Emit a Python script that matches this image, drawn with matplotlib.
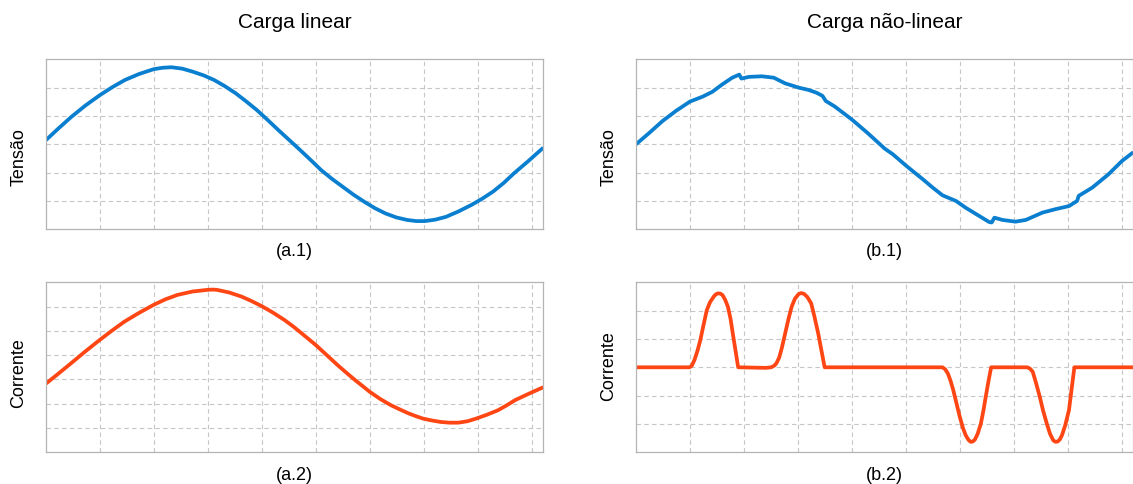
import numpy as np
import matplotlib
matplotlib.use("Agg")
import matplotlib.pyplot as plt

# valores (unidades = divisões da grade)
# (a.1) tensão, carga linear
va_t = [0.0, 0.23, 0.47, 0.73, 1.0, 1.23, 1.46, 1.72, 1.99, 2.15, 2.32, 2.52,
        2.72, 2.92, 3.11, 3.31, 3.51, 3.70, 3.90, 4.10, 4.30, 4.50, 4.70, 4.90,
        5.09, 5.29, 5.49, 5.69, 5.89, 6.08, 6.28, 6.48, 6.68, 6.85, 7.01, 7.20,
        7.40, 7.63, 7.87, 8.07, 8.27, 8.47, 8.66, 8.93, 9.2]
va_v = [3.15, 3.56, 3.97, 4.37, 4.74, 5.02, 5.27, 5.48, 5.65, 5.70, 5.72, 5.67,
        5.56, 5.43, 5.27, 5.05, 4.80, 4.52, 4.21, 3.86, 3.50, 3.15, 2.80, 2.44,
        2.09, 1.78, 1.50, 1.22, 0.97, 0.75, 0.56, 0.42, 0.33, 0.29, 0.29, 0.34,
        0.44, 0.63, 0.86, 1.08, 1.33, 1.64, 1.98, 2.42, 2.88]

# (a.2) corrente, carga linear
ia_t = [0.0, 0.23, 0.46, 0.72, 0.99, 1.22, 1.45, 1.72, 1.99, 2.21, 2.43, 2.71,
        2.99, 3.08, 3.16, 3.39, 3.62, 3.80, 3.99, 4.20, 4.41, 4.58, 4.74, 4.99,
        5.19, 5.39, 5.56, 5.72, 5.85, 5.99, 6.18, 6.38, 6.55, 6.71, 6.84, 6.97,
        7.14, 7.30, 7.46, 7.63, 7.80, 7.96, 8.16, 8.36, 8.52, 8.68, 8.92, 9.2]
ia_v = [2.83, 3.24, 3.66, 4.14, 4.62, 5.01, 5.38, 5.74, 6.07, 6.30, 6.48, 6.62,
        6.69, 6.70, 6.69, 6.58, 6.41, 6.23, 6.02, 5.75, 5.45, 5.17, 4.88, 4.42,
        4.01, 3.60, 3.27, 2.97, 2.74, 2.49, 2.20, 1.94, 1.76, 1.60, 1.49, 1.39,
        1.31, 1.25, 1.22, 1.22, 1.28, 1.39, 1.55, 1.73, 1.93, 2.15, 2.40, 2.68]

# (b.1) tensão, carga não-linear
vb_t = [0.0, 0.25, 0.49, 0.74, 1.0, 1.23, 1.41, 1.60, 1.78, 1.91, 1.95, 2.09,
        2.33, 2.55, 2.76, 3.01, 3.19, 3.34, 3.45, 3.51, 3.68, 3.99, 4.29, 4.60,
        4.75, 5.0, 5.31, 5.49, 5.67, 5.92, 6.10, 6.35, 6.53, 6.58, 6.63, 6.78,
        7.02, 7.21, 7.52, 7.76, 8.01, 8.16, 8.19, 8.44, 8.74, 8.99, 9.2]
vb_v = [3.0, 3.41, 3.82, 4.18, 4.51, 4.68, 4.85, 5.12, 5.35, 5.46, 5.32, 5.38,
        5.40, 5.35, 5.15, 5.0, 4.92, 4.82, 4.71, 4.53, 4.33, 3.88, 3.39, 2.85,
        2.65, 2.24, 1.76, 1.47, 1.20, 1.0, 0.76, 0.47, 0.26, 0.24, 0.41, 0.33,
        0.27, 0.33, 0.59, 0.71, 0.82, 1.0, 1.18, 1.47, 1.94, 2.41, 2.72]

# (b.2) corrente, carga não-linear
ib_t = [0.0, 0.99, 1.03, 1.08, 1.14, 1.19, 1.25, 1.31, 1.37, 1.44, 1.48, 1.52,
        1.56, 1.60, 1.65, 1.70, 1.75, 1.79, 1.84, 1.89, 2.40, 2.50, 2.56, 2.60,
        2.65, 2.70, 2.76, 2.82, 2.88, 2.94, 3.01, 3.06, 3.11, 3.17, 3.24, 3.30,
        3.37, 3.43, 3.49, 5.67, 5.72, 5.77, 5.82, 5.87, 5.93, 5.99, 6.05, 6.10,
        6.15, 6.19, 6.23, 6.27, 6.32, 6.38, 6.43, 6.47, 6.52, 6.57, 7.24, 7.29,
        7.34, 7.40, 7.47, 7.53, 7.60, 7.66, 7.72, 7.76, 7.80, 7.84, 7.88, 7.94,
        8.01, 8.06, 8.11, 9.2]
ib_v = [3.0, 3.0, 3.05, 3.25, 3.60, 3.96, 4.50, 5.02, 5.30, 5.50, 5.58, 5.61,
        5.60, 5.55, 5.38, 5.14, 4.70, 4.20, 3.60, 3.0, 2.98, 3.0, 3.06, 3.15,
        3.35, 3.70, 4.20, 4.70, 5.14, 5.42, 5.59, 5.62, 5.59, 5.48, 5.26, 4.80,
        4.20, 3.60, 3.0, 3.0, 2.93, 2.78, 2.52, 2.19, 1.72, 1.25, 0.85, 0.60,
        0.44, 0.37, 0.38, 0.45, 0.65, 1.01, 1.50, 1.96, 2.50, 3.0, 3.0, 2.95,
        2.84, 2.45, 1.96, 1.48, 1.01, 0.65, 0.42, 0.37, 0.38, 0.45, 0.60, 0.95,
        1.49, 2.25, 3.0, 3.0]

titulos = ["Carga linear", "Carga não-linear"]
rotulos = [["(a.1)", "(b.1)"], ["(a.2)", "(b.2)"]]
grandezas = ["Tensão", "Corrente"]

AZUL = "#0a7fd0"
LARANJA = "#fe4614"

plt.rcParams["font.family"] = ["Liberation Sans", "DejaVu Sans"]

fig = plt.figure(figsize=(11.33, 4.84), dpi=100)
W, H = 1133, 484
col_left = [46 / W, 636 / W]
row_bottom = [1 - 229.3 / H, 1 - 452.3 / H]
aw = 497.3 / W
ah = 170 / H

dados = [[(va_t, va_v, AZUL, 6), (vb_t, vb_v, AZUL, 6)],
         [(ia_t, ia_v, LARANJA, 7), (ib_t, ib_v, LARANJA, 6)]]

# posições dos textos (pixels)
ylab_x = [19, 609]
ylab_y = [[157, 157], [373, 366]]
sub_y = [251, 475]
tit_y = 22

for r in range(2):
    for c in range(2):
        ax = fig.add_axes([col_left[c], row_bottom[r], aw, ah])
        t, v, cor, ndiv = dados[r][c]
        ax.plot(t, v, color=cor, lw=2.7, solid_joinstyle="round",
                solid_capstyle="butt")
        ax.set_xlim(0, 9.2)
        ax.set_ylim(0, ndiv)
        ax.set_xticks(np.arange(1, 10))
        ax.set_yticks(np.arange(1, ndiv))
        ax.tick_params(length=0, labelbottom=False, labelleft=False)
        ax.grid(True, color="#c6c6c6", lw=0.8, linestyle=(0, (4, 3)))
        ax.set_axisbelow(True)
        for s in ax.spines.values():
            s.set_color("#b4b4b4")
            s.set_linewidth(0.9)
        cx = (col_left[c] + aw / 2)
        fig.text(ylab_x[c] / W, 1 - ylab_y[r][c] / H, grandezas[r],
                 rotation=90, ha="center", va="center", fontsize=13)
        fig.text(cx, 1 - sub_y[r] / H, rotulos[r][c],
                 ha="center", va="center", fontsize=13)
        if r == 0:
            fig.text(cx, 1 - tit_y / H, titulos[c],
                     ha="center", va="center", fontsize=15)

fig.savefig("out.png", dpi=100)
